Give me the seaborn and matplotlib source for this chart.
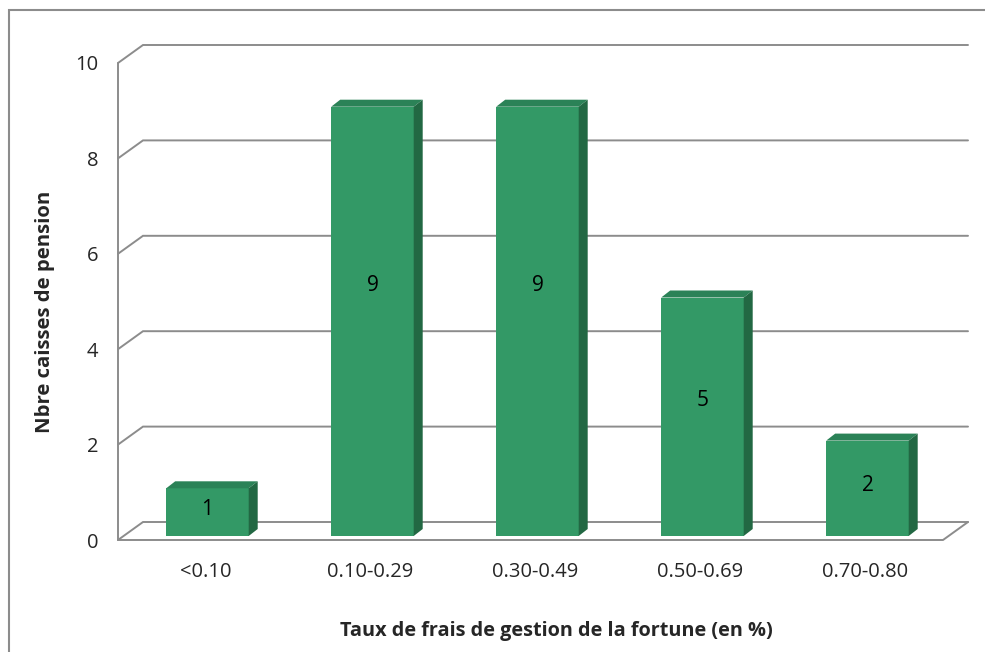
import numpy as np
import pandas as pd
import matplotlib
matplotlib.use("Agg")
import matplotlib.pyplot as plt
import seaborn as sns
from matplotlib.patches import Polygon, Rectangle
from matplotlib.transforms import ScaledTranslation

# data
categories = ["<0.10", "0.10-0.29", "0.30-0.49", "0.50-0.69", "0.70-0.80"]
counts = [1, 9, 9, 5, 2]
y_ticks = [0, 2, 4, 6, 8, 10]

front = "#339966"
top_col = "#2b8257"
side_col = "#226843"
grid_col = "#8c8c8c"

sns.set_theme(style="white")
plt.rcParams["font.family"] = ["Open Sans", "DejaVu Sans"]

W, H = 985, 652
fig = plt.figure(figsize=(W / 100, H / 100), dpi=100)

# front plane of the 3D box, in pixels
px0, px1, py0, py1 = 118, 943, 540, 63
ax = fig.add_axes([px0 / W, 1 - py0 / H, (px1 - px0) / W, (py0 - py1) / H])
ax.patch.set_alpha(0)

df = pd.DataFrame({"taux": categories, "n": counts})
sns.barplot(data=df, x="taux", y="n", color=front, width=0.5, saturation=1,
            linewidth=0, ax=ax, zorder=3)

xl, xr = -0.53, 4.47
ax.set_xlim(xl, xr)
ax.set_ylim(0, 10)

# pixel -> data factors
kx = (xr - xl) / (px1 - px0)
ky = 10 / (py0 - py1)
DX, DY = 25 * kx, 18 * ky      # depth of the box
bdx, bdy = 9 * kx, 7 * ky      # depth of the bars

# bars sit a bit behind the front plane
shift = ax.transData + ScaledTranslation(0.02, 0.04, fig.dpi_scale_trans)

# walls / gridlines
for v in y_ticks:
    ax.plot([xl, xl + DX, xr + DX], [v, v + DY, v + DY], color=grid_col,
            lw=1.4, clip_on=False, zorder=1, solid_joinstyle="miter")
ax.plot([xl, xl], [0, 10], color=grid_col, lw=1.4, clip_on=False, zorder=1)
ax.plot([xl, xr, xr + DX], [0, 0, DY], color=grid_col, lw=1.4,
        clip_on=False, zorder=2)

# 3D faces on each bar
for p, v in zip(ax.patches, counts):
    p.set_transform(shift)
    x, w, h = p.get_x(), p.get_width(), p.get_height()
    ax.add_patch(Polygon([(x, h), (x + w, h), (x + w + bdx, h + bdy), (x + bdx, h + bdy)],
                         closed=True, facecolor=top_col, edgecolor="none",
                         transform=shift, zorder=3))
    ax.add_patch(Polygon([(x + w, 0), (x + w + bdx, bdy), (x + w + bdx, h + bdy), (x + w, h)],
                         closed=True, facecolor=side_col, edgecolor="none",
                         transform=shift, zorder=3))
    ax.text(x + w / 2, max(0.6 * v - 0.15, 0.55), str(v), ha="center", va="center",
            fontsize=15, color="black", transform=shift, zorder=4)

for s in ax.spines.values():
    s.set_visible(False)
ax.set_yticks(y_ticks)
ax.tick_params(axis="y", length=0, pad=14, labelsize=14.5)
ax.tick_params(axis="x", length=0, pad=16, labelsize=14.5)

ax.set_xlabel("Taux de frais de gestion de la fortune (en %)", fontsize=14.3,
              fontweight="bold")
ax.set_ylabel("Nbre caisses de pension", fontsize=14.6, fontweight="bold")
ax.xaxis.set_label_coords((556 - px0) / (px1 - px0), (py0 - 621) / (py0 - py1))
ax.yaxis.set_label_coords((55 - px0) / (px1 - px0), (py0 - 312) / (py0 - py1))

# chart area border
fig.add_artist(Rectangle((9 / W, -0.1), 1.2, 1 - 10 / H + 0.1, transform=fig.transFigure,
                         fill=False, edgecolor=grid_col, lw=1.5))

fig.savefig("out.png", dpi=100)
